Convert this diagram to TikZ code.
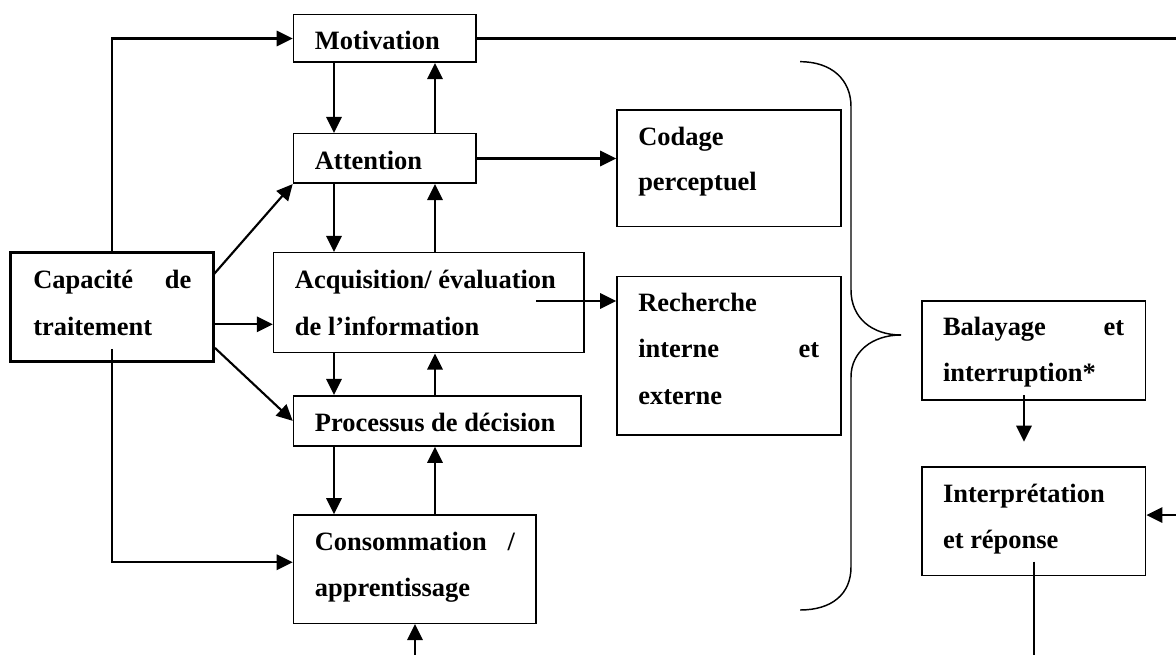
\documentclass[tikz,border=0pt]{standalone}
\usepackage{fontspec}
\setmainfont{Liberation Serif}
\usetikzlibrary{arrows.meta,calc,fit}
\begin{document}
\begin{tikzpicture}[x=0.75pt,y=-0.75pt,
  box/.style={draw,line width=1.2pt,inner sep=0pt},
  thickbox/.style={draw,line width=2.3pt,inner sep=0pt},
  ln/.style={line width=1.6pt},
  arr/.style={ln,-{Triangle[length=12pt,width=11.5pt]}},
  txt/.style={inner sep=0pt,anchor=base west,font=\fontsize{19.84}{24}\selectfont\bfseries},
  brace/.style={line width=1.1pt}
]
\useasboundingbox (0,0) rectangle (1176,655);

% boxes
\node[box,fit={(293.5,14.7) (475.7,62.3)}] (mot) {};
\node[box,fit={(293.5,133.7) (475.7,183.3)}] (att) {};
\node[box,fit={(273.6,252.7) (584,352.7)}] (acq) {};
\node[box,fit={(293.5,395.7) (581,446)}] (pro) {};
\node[box,fit={(293.5,515) (535.8,623.3)}] (con) {};
\node[thickbox,fit={(10.3,252.7) (213.2,361.7)}] (cap) {};
\node[box,fit={(617,110) (841,226.7)}] (cod) {};
\node[box,fit={(617,276.7) (841,435)}] (rec) {};
\node[box,fit={(921.7,301) (1145.6,400)}] (bal) {};
\node[box,fit={(921.7,466.7) (1145.6,575.3)}] (int) {};

% texts
\node[txt] (tmot) at (314.6,50) {Motivation};
\node[txt] (tatt) at (314.6,170) {Attention};
\node[txt] (tcap1) at (33,289) {\makebox[118.5pt][l]{Capacité\hfill de}};
\node[txt] (tcap2) at (33,335) {traitement};
\node[txt] (tacq1) at (294.7,289) {Acquisition/ évaluation};
\node[txt] (tacq2) at (294.7,335) {de l’information};
\node[txt] (tpro) at (314.6,431) {Processus de décision};
\node[txt] (tcon1) at (314.6,550.5) {\makebox[150pt][l]{Consommation\hfill /}};
\node[txt] (tcon2) at (314.6,596.5) {apprentissage};
\node[txt] (tcod1) at (638,145.7) {Codage};
\node[txt] (tcod2) at (638,190.7) {perceptuel};
\node[txt] (trec1) at (638,311.7) {Recherche};
\node[txt] (trec2) at (638,357.7) {\makebox[135.75pt][l]{interne\hfill et}};
\node[txt] (trec3) at (638,404) {externe};
\node[txt] (tbal1) at (942.8,335) {\makebox[135.9pt][l]{Balayage\hfill et}};
\node[txt] (tbal2) at (942.8,381.7) {interruption*};
\node[txt] (tint1) at (942.8,502.3) {Interprétation};
\node[txt] (tint2) at (942.8,548.3) {et réponse};

% helper coordinates
\coordinate (xd) at (334,0);
\coordinate (xu) at (435,0);
\coordinate (xc) at (112,0);
\coordinate (redge) at (1180,0);
\coordinate (capA) at (213.2,275);
\coordinate (capB) at (213.2,324.3);
\coordinate (capC) at (215,348);
\coordinate (capD) at (112,349);
\coordinate (conIn) at (112,562.3);
\coordinate (acqOut) at (536,301);
\coordinate (botC) at (415,660);
\coordinate (balA) at (1024,395);
\coordinate (balB) at (1024,441.7);
\coordinate (rInt) at (1180,515);
\coordinate (intA) at (1034,561.7);
\coordinate (intB) at (1034,660);

% connectors
\draw[arr] (cap.north -| xc) |- (mot.west);
\draw[ln] (mot.east) -- (mot.east -| redge);
\draw[arr] (mot.south -| xd) -- (att.north -| xd);
\draw[arr] (att.north -| xu) -- (mot.south -| xu);
\draw[arr] (att.east) -- (att.east -| cod.west);
\draw[arr] (att.south -| xd) -- (acq.north -| xd);
\draw[arr] (acq.north -| xu) -- (att.south -| xu);
\draw[arr] (capA) -- (att.south west);
\draw[arr] (capB) -- (capB -| acq.west);
\draw[arr] (capC) -- (pro.west);
\draw[arr] (acq.south -| xd) -- (pro.north -| xd);
\draw[arr] (pro.north -| xu) -- (acq.south -| xu);
\draw[arr] (acqOut) -- (acqOut -| rec.west);
\draw[arr] (pro.south -| xd) -- (con.north -| xd);
\draw[arr] (con.north -| xu) -- (pro.south -| xu);
\draw[arr] (capD) |- (conIn -| con.west);
\draw[arr] (botC) -- (botC |- con.south);
\draw[arr] (balA) -- (balB);
\draw[arr] (rInt) -- (rInt -| int.east);
\draw[ln] (intA) -- (intB);

% brace
\draw[brace] (800,61.7) .. controls (832,61.7) and (851,80) .. (851,106.7) -- (851,290) .. controls (851,318) and (872,335) .. (901,335);
\draw[brace] (901,335) .. controls (872,335) and (851,352) .. (851,377) -- (851,567) .. controls (851,594) and (832,610) .. (800,610);
\end{tikzpicture}
\end{document}
